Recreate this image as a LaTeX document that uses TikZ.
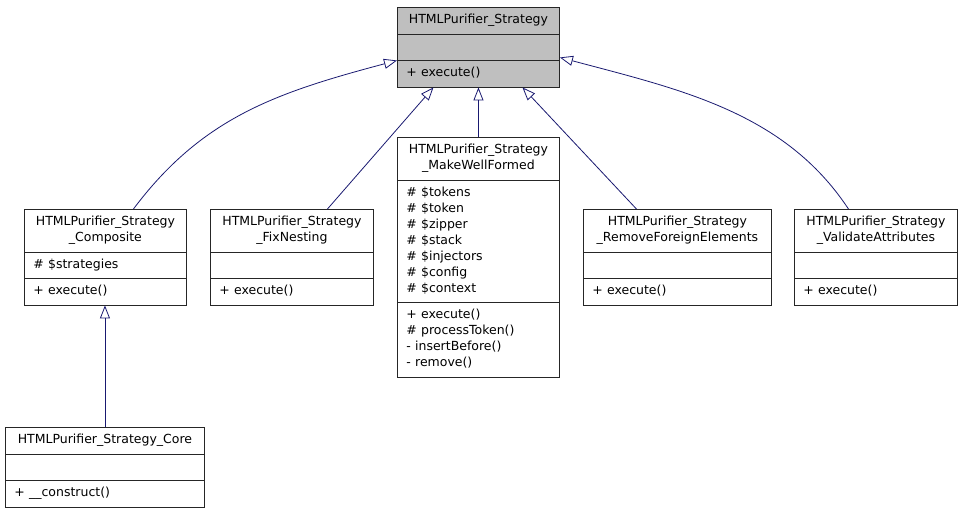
\documentclass[tikz,border=0pt]{standalone}
\usepackage{fontspec}
\setmainfont{DejaVu Sans}
\setlength{\parindent}{0pt}
\usetikzlibrary{shapes.multipart, arrows.meta}
\definecolor{edgeblue}{HTML}{191970}
\definecolor{basegray}{HTML}{BFBFBF}
\tikzset{>={Triangle[open,length=13pt,width=10pt]}}

\begin{document}
\begin{tikzpicture}[x=1pt,y=-1pt,
		cls/.style={rectangle split, rectangle split parts=3, draw=black!85, line width=0.9pt,
			fill=white, inner xsep=9pt, inner ysep=4.8pt, anchor=north west,
			font=\fontsize{12.5}{16}\selectfont},
		inh/.style={->, draw=edgeblue, line width=0.8pt}]
	\useasboundingbox (0,0) rectangle (963,515);

	% base class
	\draw (397,7) node (strat) [cls, fill=basegray, text width=144pt]
		{\centering\strut HTMLPurifier\_Strategy\par\nodepart{second}\strut\nodepart{third}\strut+ execute()};

	% derived classes
	\draw (24,209) node (comp) [cls, text width=144pt]
		{\centering\strut HTMLPurifier\_Strategy\\\_Composite\strut\par
		\nodepart{second}\strut\# \$strategies\nodepart{third}\strut+ execute()};
	\draw (210,209) node (fixn) [cls, text width=145pt]
		{\centering\strut HTMLPurifier\_Strategy\\\_FixNesting\strut\par
		\nodepart{second}\strut\nodepart{third}\strut+ execute()};
	\draw (397,137) node (mwf) [cls, text width=144pt]
		{\centering\strut HTMLPurifier\_Strategy\\\_MakeWellFormed\strut\par
		\nodepart{second}\strut\# \$tokens\\\# \$token\\\# \$zipper\\\# \$stack\\\# \$injectors\\\# \$config\\\# \$context\strut
		\nodepart{third}\strut+ execute()\\\# processToken()\\- insertBefore()\\- remove()\strut};
	\draw (583,209) node (rfe) [cls, text width=170pt]
		{\centering\strut HTMLPurifier\_Strategy\\\_RemoveForeignElements\strut\par
		\nodepart{second}\strut\nodepart{third}\strut+ execute()};
	\draw (794,209) node (vattr) [cls, text width=145pt]
		{\centering\strut HTMLPurifier\_Strategy\\\_ValidateAttributes\strut\par
		\nodepart{second}\strut\nodepart{third}\strut+ execute()};
	\draw (5,427) node (core) [cls, text width=181pt]
		{\centering\strut HTMLPurifier\_Strategy\_Core\par
		\nodepart{second}\strut\nodepart{third}\strut+ \_\_construct()};

	% inheritance
	\draw [inh] ([xshift=28pt]comp.north) .. controls +(69,-92) and +(-120,32) .. (strat.two split west);
	\draw [inh] ([xshift=35.5pt]fixn.north) -- ([xshift=-45pt]strat.south);
	\draw [inh] (mwf.north) -- (strat.south);
	\draw [inh] ([xshift=-41pt]rfe.north) -- ([xshift=44pt]strat.south);
	\draw [inh] ([xshift=-27.5pt]vattr.north) .. controls +(-64,-97) and +(120,32) .. ([yshift=3pt]strat.two split east);
	\draw [inh] (core.north) -- (core.north |- comp.south);
\end{tikzpicture}
\end{document}
